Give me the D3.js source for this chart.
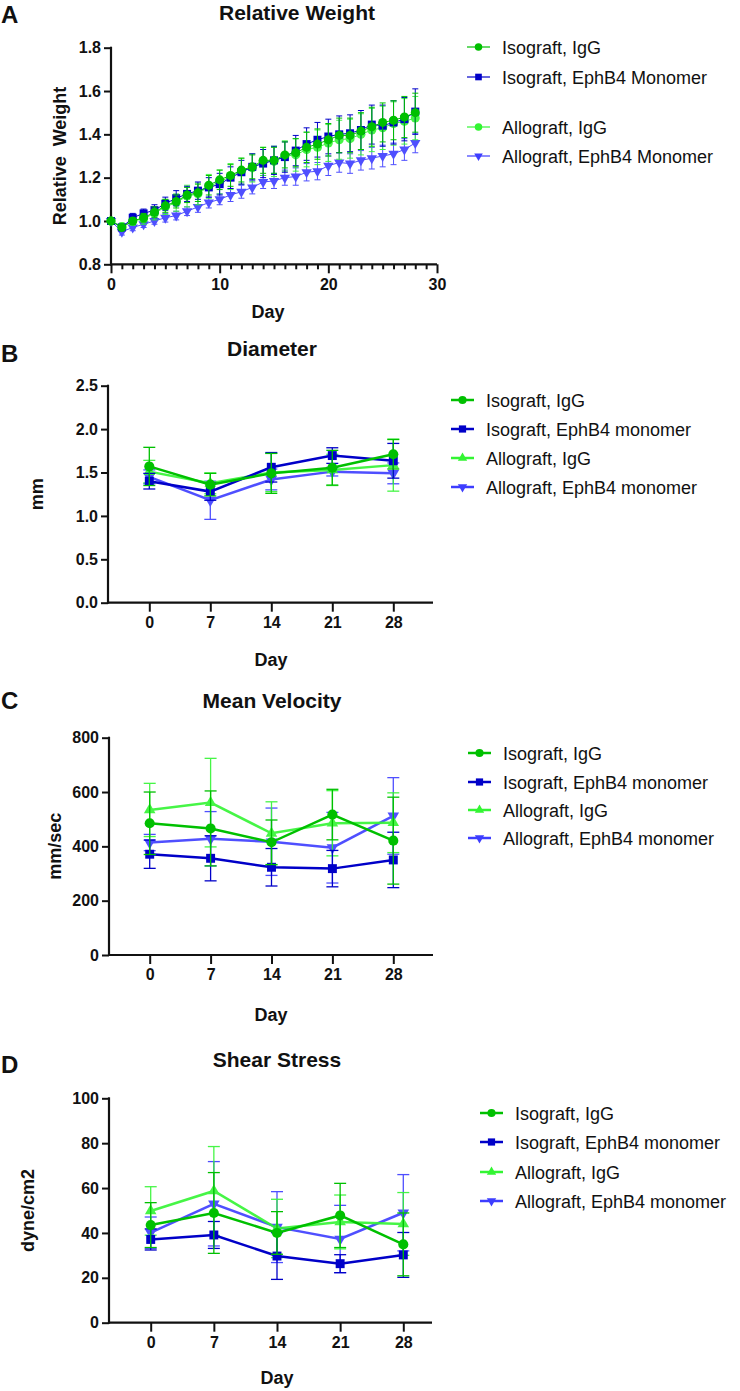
<!DOCTYPE html>
<html>
<head>
<meta charset="utf-8">
<script src="https://cdn.jsdelivr.net/npm/d3@7"></script>
<style>
  html, body { margin: 0; padding: 0; background: #fff; }
  svg { display: block; }
  text { font-family: "Liberation Sans", Arial, sans-serif; fill: #111; }
</style>
</head>
<body>
<svg id="chart" width="740" height="1391"></svg>
<script>
// ---------------- DATA ----------------
const seriesNames = ["Isograft, IgG", "Isograft, EphB4 Monomer", "Allograft, IgG", "Allograft, EphB4 Monomer"];
const seriesNamesBCD = ["Isograft, IgG", "Isograft, EphB4 monomer", "Allograft, IgG", "Allograft, EphB4 monomer"];

// Panel A: relative weight, days 0..28
const weightDays = [0,1,2,3,4,5,6,7,8,9,10,11,12,13,14,15,16,17,18,19,20,21,22,23,24,25,26,27,28];
const weightIsoIgG = [1.0,0.97,1.0,1.015,1.04,1.07,1.09,1.12,1.13,1.165,1.19,1.21,1.235,1.25,1.28,1.28,1.305,1.315,1.34,1.355,1.375,1.395,1.395,1.415,1.435,1.455,1.465,1.48,1.5];
const weightIsoEph = [1.0,0.97,1.015,1.035,1.05,1.08,1.105,1.125,1.14,1.155,1.17,1.2,1.225,1.25,1.265,1.28,1.295,1.325,1.355,1.375,1.39,1.4,1.405,1.42,1.445,1.44,1.455,1.47,1.505];
const weightAlloIgG = [1.0,0.975,1.0,1.01,1.035,1.065,1.085,1.115,1.125,1.16,1.18,1.205,1.23,1.245,1.275,1.275,1.3,1.305,1.33,1.34,1.36,1.375,1.38,1.4,1.42,1.43,1.45,1.46,1.475];
const weightAlloEph = [1.0,0.95,0.97,0.985,1.0,1.015,1.025,1.045,1.065,1.085,1.1,1.12,1.135,1.155,1.18,1.185,1.2,1.205,1.225,1.23,1.255,1.27,1.265,1.28,1.29,1.3,1.31,1.33,1.36];
const weightErrIsoIgG = [0,0.012,0.015,0.02,0.025,0.03,0.03,0.035,0.04,0.045,0.045,0.05,0.055,0.055,0.06,0.06,0.06,0.065,0.07,0.07,0.075,0.08,0.08,0.085,0.09,0.09,0.09,0.095,0.09];
const weightErrIsoEph = [0,0.01,0.02,0.02,0.025,0.03,0.035,0.035,0.04,0.045,0.05,0.05,0.055,0.06,0.065,0.065,0.07,0.07,0.075,0.08,0.08,0.085,0.085,0.09,0.09,0.095,0.1,0.1,0.105];
const weightErrAlloIgG = [0,0.015,0.02,0.025,0.03,0.035,0.04,0.05,0.05,0.055,0.055,0.06,0.06,0.065,0.065,0.07,0.07,0.075,0.08,0.08,0.085,0.09,0.09,0.095,0.1,0.1,0.1,0.105,0.1];
const weightErrAlloEph = [0,0.015,0.015,0.015,0.015,0.02,0.02,0.02,0.025,0.025,0.025,0.03,0.03,0.03,0.03,0.035,0.035,0.04,0.04,0.04,0.045,0.045,0.045,0.045,0.05,0.05,0.05,0.05,0.045];

// Panels B-D: days
const days = [0,7,14,21,28];
// Panel B: diameter (mm)
const diamIsoIgG = [1.57,1.36,1.49,1.555,1.71];
const diamIsoEph = [1.40,1.28,1.56,1.695,1.635];
const diamAlloIgG = [1.51,1.375,1.5,1.53,1.585];
const diamAlloEph = [1.45,1.18,1.42,1.51,1.49];
const diamErrIsoIgG = [0.22,0.13,0.23,0.2,0.17];
const diamErrIsoEph = [0.09,0.1,0.17,0.09,0.2];
const diamErrAlloIgG = [0.13,0.12,0.22,0.18,0.3];
const diamErrAlloEph = [0.08,0.22,0.12,0.05,0.12];

// Panel C: mean velocity (mm/sec)
const velIsoIgG = [485,466,415,517,421];
const velIsoEph = [371,356,323,318,350];
const velAlloIgG = [534,561,448,485,487];
const velAlloEph = [414,428,417,395,512];
const velErrIsoIgG = [115,138,82,93,160];
const velErrIsoEph = [52,83,69,67,102];
const velErrAlloIgG = [98,163,116,120,110];
const velErrAlloEph = [30,100,124,130,141];

// Panel D: shear stress (dyne/cm2)
const shearIsoIgG = [43.5,48.9,40.0,47.8,34.9];
const shearIsoEph = [37.1,39.1,29.7,26.3,30.2];
const shearAlloIgG = [49.8,58.7,42.0,44.9,44.0];
const shearAlloEph = [40.1,53.0,42.6,37.3,49.0];
const shearErrIsoIgG = [10,18,9.5,14.3,14];
const shearErrIsoEph = [4.7,6,10.4,4,10];
const shearErrAlloIgG = [10.8,19.8,13,12,14];
const shearErrAlloEph = [7,18.8,15.8,15,17];

// Tick labels
const weightYTicks = [0.8,1.0,1.2,1.4,1.6,1.8];
const weightXTicks = [0,10,20,30];
const diamYTicks = [0,0.5,1.0,1.5,2.0,2.5];
const velYTicks = [0,200,400,600,800];
const shearYTicks = [0,20,40,60,80,100];

// ---------------- STYLE ----------------
const colors = ["#00c000", "#0000c8", "#33f533", "#3d3dff"];
const shapes = ["circle", "square", "triUp", "triDown"];
const shapesA = ["circle", "square", "circle", "triDown"];

const svg = d3.select("#chart");

function symbolPath(shape, scale) {
  scale = scale || 1;
  if (shape === "circle") return d3.symbol(d3.symbolCircle, 80 * scale)();
  if (shape === "square") return d3.symbol(d3.symbolSquare, 80 * scale)();
  return d3.symbol(d3.symbolTriangle, 58 * scale)();
}

function styleAxis(g, fontSize) {
  g.select(".domain").remove();
  g.selectAll(".tick line").attr("stroke", "#111").attr("stroke-width", 2);
  g.selectAll(".tick text")
    .attr("fill", "#111")
    .style("font-family", "'Liberation Sans', Arial, sans-serif")
    .style("font-weight", "bold")
    .style("font-size", fontSize + "px");
}

function drawPanel(cfg) {
  const g = svg.append("g");
  const x = d3.scaleLinear().domain(cfg.xDomain).range(cfg.xRange);
  const y = d3.scaleLinear().domain(cfg.yDomain).range(cfg.yRange);

  // panel letter
  g.append("text").attr("x", 1).attr("y", cfg.letterY).text(cfg.letter)
    .style("font-weight", "bold").style("font-size", "24px");
  // title
  g.append("text").attr("x", cfg.titleX).attr("y", cfg.titleY).attr("text-anchor", "middle")
    .text(cfg.title).style("font-weight", "bold").style("font-size", "21px");

  // y axis
  const yAxis = g.append("g").attr("transform", `translate(${cfg.axisX},0)`)
    .call(d3.axisLeft(y).tickValues(cfg.yTicks).tickSize(7).tickPadding(3).tickFormat(cfg.yFormat));
  styleAxis(yAxis, 16);
  g.append("line").attr("x1", cfg.axisX).attr("x2", cfg.axisX)
    .attr("y1", cfg.yRange[1] - 1).attr("y2", cfg.yRange[0] + 1)
    .attr("stroke", "#111").attr("stroke-width", 2.2);

  // x axis
  if (cfg.minorTicks) {
    const minor = g.append("g").attr("transform", `translate(0,${cfg.yRange[0]})`)
      .call(d3.axisBottom(x).tickValues(cfg.minorTicks).tickSize(5).tickFormat(""));
    styleAxis(minor, 16);
  }
  const xAxis = g.append("g").attr("transform", `translate(0,${cfg.yRange[0]})`)
    .call(d3.axisBottom(x).tickValues(cfg.xTicks).tickSize(9).tickPadding(5).tickFormat(d3.format("d")));
  styleAxis(xAxis, 16);
  g.append("line").attr("x1", cfg.axisX - 1).attr("x2", cfg.axisEndX)
    .attr("y1", cfg.yRange[0]).attr("y2", cfg.yRange[0])
    .attr("stroke", "#111").attr("stroke-width", 2.2);

  // axis titles
  g.append("text").attr("x", cfg.xLabelX).attr("y", cfg.xLabelY).attr("text-anchor", "middle")
    .text("Day").style("font-weight", "bold").style("font-size", "18px");
  g.append("text")
    .attr("transform", `translate(${cfg.yLabelX},${(cfg.yRange[0] + cfg.yRange[1]) / 2}) rotate(-90)`)
    .attr("text-anchor", "middle").attr("dy", "0.35em")
    .style("white-space", "pre")
    .text(cfg.yLabel).style("font-weight", "bold").style("font-size", "18px");

  // series
  const order = [3, 2, 1, 0];
  order.forEach(i => {
    const s = cfg.series[i];
    const pts = cfg.xVals.map((d, k) => ({ x: d, y: s.values[k], e: s.errs[k] }));
    const sg = g.append("g").attr("opacity", i >= 2 ? 0.9 : 1);
    // error bars
    const eb = sg.selectAll(".eb").data(pts).enter().append("g");
    eb.append("line")
      .attr("x1", d => x(d.x)).attr("x2", d => x(d.x))
      .attr("y1", d => y(d.y - d.e)).attr("y2", d => y(d.y + d.e))
      .attr("stroke", colors[i]).attr("stroke-width", cfg.errWidth);
    [-1, 1].forEach(sgn => {
      eb.append("line")
        .attr("x1", d => x(d.x) - cfg.capHalf).attr("x2", d => x(d.x) + cfg.capHalf)
        .attr("y1", d => y(d.y + sgn * d.e)).attr("y2", d => y(d.y + sgn * d.e))
        .attr("stroke", colors[i]).attr("stroke-width", cfg.errWidth);
    });
    // line
    sg.append("path").datum(pts)
      .attr("d", d3.line().x(d => x(d.x)).y(d => y(d.y)))
      .attr("fill", "none").attr("stroke", colors[i]).attr("stroke-width", cfg.lineWidth);
    // markers
    const shp = cfg.shapes[i];
    sg.selectAll(".m").data(pts).enter().append("path")
      .attr("d", symbolPath(shp, cfg.markerScale))
      .attr("transform", d => `translate(${x(d.x)},${y(d.y)})` + (shp === "triDown" ? " rotate(180)" : ""))
      .attr("fill", colors[i]);
  });

  // legend
  cfg.legendY.forEach((ly, i) => {
    const lg = g.append("g");
    lg.append("line").attr("x1", cfg.legendX).attr("x2", cfg.legendX + 23)
      .attr("y1", ly).attr("y2", ly).attr("stroke", colors[i]).attr("stroke-width", cfg.legendLineWidth);
    const shp = cfg.shapes[i];
    lg.append("path").attr("d", symbolPath(shp, cfg.legendMarkerScale))
      .attr("transform", `translate(${cfg.legendX + 11.5},${ly})` + (shp === "triDown" ? " rotate(180)" : ""))
      .attr("fill", colors[i]);
    lg.append("text").attr("x", cfg.legendX + 35).attr("y", ly + 6.5)
      .text(cfg.names[i]).style("font-size", "18px").attr("fill", "#1a1a1a");
  });
}

// Panel A
drawPanel({
  letter: "A", letterY: 22.5, title: "Relative Weight", titleX: 297, titleY: 19.5,
  xDomain: [0, 30], xRange: [111, 437], yDomain: [0.8, 1.8], yRange: [264.3, 47.7],
  axisX: 111, axisEndX: 437, xTicks: weightXTicks, minorTicks: d3.range(0, 31).filter(d => d % 10 !== 0),
  yTicks: weightYTicks, yFormat: d3.format(".1f"),
  xLabelX: 268, xLabelY: 318, yLabelX: 60, yLabel: "Relative  Weight",
  xVals: weightDays,
  series: [
    { values: weightIsoIgG, errs: weightErrIsoIgG },
    { values: weightIsoEph, errs: weightErrIsoEph },
    { values: weightAlloIgG, errs: weightErrAlloIgG },
    { values: weightAlloEph, errs: weightErrAlloEph }
  ],
  shapes: shapesA, names: seriesNames, markerScale: 0.8, lineWidth: 1, errWidth: 1, capHalf: 3,
  legendX: 467, legendY: [47, 77, 127, 156], legendLineWidth: 1.2, legendMarkerScale: 0.55
});

// Panel B
drawPanel({
  letter: "B", letterY: 362, title: "Diameter", titleX: 272, titleY: 356,
  xDomain: [0, 28], xRange: [149.3, 393.3], yDomain: [0, 2.5], yRange: [602.7, 385.7],
  axisX: 108, axisEndX: 433, xTicks: days,
  yTicks: diamYTicks, yFormat: d3.format(".1f"),
  xLabelX: 271, xLabelY: 666, yLabelX: 37, yLabel: "mm",
  xVals: days,
  series: [
    { values: diamIsoIgG, errs: diamErrIsoIgG },
    { values: diamIsoEph, errs: diamErrIsoEph },
    { values: diamAlloIgG, errs: diamErrAlloIgG },
    { values: diamAlloEph, errs: diamErrAlloEph }
  ],
  shapes: shapes, names: seriesNamesBCD, markerScale: 1, lineWidth: 2.5, errWidth: 1.3, capHalf: 6,
  legendX: 451, legendY: [400, 429, 458, 487], legendLineWidth: 2.5, legendMarkerScale: 0.65
});

// Panel C
drawPanel({
  letter: "C", letterY: 709, title: "Mean Velocity", titleX: 272, titleY: 708,
  xDomain: [0, 28], xRange: [149.7, 393.3], yDomain: [0, 800], yRange: [955, 737.7],
  axisX: 109, axisEndX: 433, xTicks: days,
  yTicks: velYTicks, yFormat: d3.format("d"),
  xLabelX: 271, xLabelY: 1021, yLabelX: 55, yLabel: "mm/sec",
  xVals: days,
  series: [
    { values: velIsoIgG, errs: velErrIsoIgG },
    { values: velIsoEph, errs: velErrIsoEph },
    { values: velAlloIgG, errs: velErrAlloIgG },
    { values: velAlloEph, errs: velErrAlloEph }
  ],
  shapes: shapes, names: seriesNamesBCD, markerScale: 1, lineWidth: 2.5, errWidth: 1.3, capHalf: 6,
  legendX: 468, legendY: [753, 782, 810, 838], legendLineWidth: 2.5, legendMarkerScale: 0.65
});

// Panel D
drawPanel({
  letter: "D", letterY: 1073, title: "Shear Stress", titleX: 277, titleY: 1067,
  xDomain: [0, 28], xRange: [150.7, 403.3], yDomain: [0, 100], yRange: [1322.7, 1098.3],
  axisX: 109, axisEndX: 432, xTicks: days,
  yTicks: shearYTicks, yFormat: d3.format("d"),
  xLabelX: 277, xLabelY: 1384, yLabelX: 28, yLabel: "dyne/cm2",
  xVals: days,
  series: [
    { values: shearIsoIgG, errs: shearErrIsoIgG },
    { values: shearIsoEph, errs: shearErrIsoEph },
    { values: shearAlloIgG, errs: shearErrAlloIgG },
    { values: shearAlloEph, errs: shearErrAlloEph }
  ],
  shapes: shapes, names: seriesNamesBCD, markerScale: 1, lineWidth: 2.5, errWidth: 1.3, capHalf: 6,
  legendX: 480, legendY: [1113, 1142, 1172, 1201], legendLineWidth: 2.5, legendMarkerScale: 0.65
});
</script>
</body>
</html>
